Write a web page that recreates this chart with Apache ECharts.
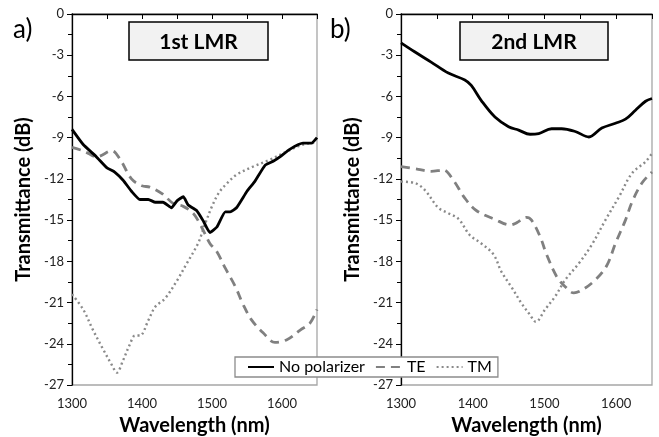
<!DOCTYPE html>
<html><head><meta charset="utf-8">
<script src="https://cdn.jsdelivr.net/npm/echarts@6/dist/echarts.min.js"></script>
<style>html,body{margin:0;padding:0;background:#fff}#c{width:659px;height:437px}</style>
</head><body><div id="c"></div>
<script>
// Panel a) 1st LMR
const aNoPolWl = [1300,1316,1335,1350,1361,1373,1385,1397,1409,1419,1430,1442,1450,1459,1466,1478,1488,1497,1507,1519,1526,1535,1550,1561,1576,1588,1597,1611,1630,1642,1650];
const aNoPolDb = [-8.4,-9.5,-10.4,-11.2,-11.5,-12.1,-12.9,-13.5,-13.5,-13.7,-13.7,-14.1,-13.6,-13.3,-13.9,-14.3,-15.1,-15.9,-15.5,-14.4,-14.4,-14.1,-12.9,-12.2,-11.0,-10.7,-10.4,-9.85,-9.4,-9.4,-9.0];
const aTEWl = [1300,1318,1335,1357,1369,1385,1400,1411,1428,1445,1459,1473,1482,1490,1497,1507,1519,1533,1545,1557,1573,1590,1607,1626,1640,1650];
const aTEDb = [-9.7,-10.0,-10.4,-9.95,-10.6,-12.0,-12.5,-12.6,-13.05,-13.8,-14.0,-14.5,-15.2,-16.0,-16.7,-17.3,-18.5,-19.8,-21.2,-22.3,-23.2,-23.9,-23.7,-23.0,-22.5,-21.5];
const aTMWl = [1300,1316,1330,1345,1357,1364,1373,1383,1390,1397,1409,1419,1433,1450,1464,1480,1490,1500,1510,1520,1535,1559,1583,1607,1630,1650];
const aTMDb = [-20.4,-21.5,-23.0,-24.45,-25.55,-26.1,-25.2,-24.0,-23.4,-23.4,-22.3,-21.3,-20.7,-19.4,-18.15,-16.7,-15.3,-14.0,-13.0,-12.4,-11.7,-11.1,-10.6,-10.0,-9.5,-9.35];
// Panel b) 2nd LMR
const bNoPolWl = [1300,1319,1342,1366,1389,1398,1412,1431,1450,1464,1480,1492,1510,1524,1543,1562,1580,1599,1613,1627,1641,1650];
const bNoPolDb = [-2.1,-2.75,-3.5,-4.3,-4.8,-5.2,-6.3,-7.5,-8.2,-8.45,-8.75,-8.7,-8.35,-8.35,-8.55,-8.95,-8.3,-7.95,-7.65,-7.0,-6.35,-6.15];
const bTEWl = [1300,1324,1342,1359,1373,1389,1405,1431,1452,1461,1475,1482,1494,1503,1517,1529,1541,1552,1571,1587,1599,1613,1622,1636,1650];
const bTEDb = [-11.1,-11.3,-11.45,-11.35,-12.1,-13.4,-14.3,-14.95,-15.35,-15.2,-14.8,-15.0,-16.2,-17.5,-19.1,-19.85,-20.3,-20.1,-19.35,-18.3,-16.7,-15.0,-13.7,-12.3,-11.5];
const bTMWl = [1300,1319,1333,1352,1366,1380,1396,1412,1429,1440,1455,1468,1480,1488,1501,1515,1529,1548,1566,1585,1604,1622,1641,1650];
const bTMDb = [-12.2,-12.3,-12.8,-14.1,-14.5,-14.9,-16.1,-16.7,-17.5,-18.75,-19.95,-21.05,-21.9,-22.4,-21.5,-20.55,-19.35,-18.15,-16.8,-15.0,-13.3,-11.6,-10.75,-10.15];

const seriesNames = ['No polarizer','TE','TM'];
const panelTitles = ['1st LMR','2nd LMR'];
const panelLetters = ['a)','b)'];
const xTitle = 'Wavelength (nm)';
const yTitle = 'Transmittance (dB)';

const FONT = 'Lato, "Open Sans", sans-serif';
const zip = (x, y) => x.map((v, i) => [v, y[i]]);

const styles = [
  {color:'#000000', width:2.8, type:'solid'},
  {color:'#808080', width:2.8, type:[9,6]},
  {color:'#8a8a8a', width:2.4, type:[2,3]}
];
const panels = [
  [zip(aNoPolWl,aNoPolDb), zip(aTEWl,aTEDb), zip(aTMWl,aTMDb)],
  [zip(bNoPolWl,bNoPolDb), zip(bTEWl,bTEDb), zip(bTMWl,bTMDb)]
];
const grids = [
  {left:72, top:14, width:245, height:371},
  {left:401, top:14, width:251, height:371}
];

function xAxis(i){
  return {type:'value', gridIndex:i, min:1300, max:1650, interval:50,
    name:xTitle, nameLocation:'middle', nameGap:31,
    nameTextStyle:{fontFamily:FONT, fontWeight:'bold', fontSize:20, color:'#000'},
    axisLine:{lineStyle:{color:'#000', width:1.3}},
    axisTick:{show:true, inside:false, length:5, lineStyle:{color:'#000'}},
    axisLabel:{fontFamily:FONT, fontSize:13, color:'#222', margin:12,
      formatter:v => (v % 100 === 0 ? String(v) : '')},
    splitLine:{show:false}};
}
function yAxis(i){
  return {type:'value', gridIndex:i, min:-27, max:0, interval:3,
    name:yTitle, nameLocation:'middle', nameGap:38,
    nameTextStyle:{fontFamily:FONT, fontWeight:'bold', fontSize:20, color:'#000'},
    axisLine:{show:true, lineStyle:{color:'#000', width:1.3}},
    axisTick:{show:true, inside:false, length:5, lineStyle:{color:'#000'}},
    minorTick:{show:true, splitNumber:2, length:4, lineStyle:{color:'#000'}},
    axisLabel:{fontFamily:FONT, fontSize:13, color:'#222', margin:8},
    splitLine:{show:false}};
}

const series = [];
panels.forEach((p, gi) => p.forEach((d, si) => {
  series.push({type:'line', name:seriesNames[si], xAxisIndex:gi, yAxisIndex:gi,
    data:d, symbol:'none', smooth:si===0 && gi===0 ? 0.15 : 0.35,
    lineStyle:{color:styles[si].color, width:styles[si].width, type:styles[si].type},
    itemStyle:{color:styles[si].color}, z: 3 - si});
}));

const boxes = [
  {x:129, y:22, w:139, h:38},
  {x:460, y:22, w:148, h:38}
];
const graphic = [];
boxes.forEach((b, i) => {
  graphic.push({type:'rect', x:b.x, y:b.y, z:10,
    shape:{x:0, y:0, width:b.w, height:b.h},
    style:{fill:'#f2f2f2', stroke:'#000', lineWidth:1.5}});
  graphic.push({type:'text', x:b.x + b.w/2, y:b.y + b.h/2 + 1, z:11,
    style:{text:panelTitles[i], font:'bold 21px ' + FONT, fill:'#000',
      align:'center', verticalAlign:'middle', textAlign:'center', textVerticalAlign:'middle'}});
});
[[13,17],[330,17]].forEach((p, i) => {
  graphic.push({type:'text', x:p[0], y:p[1], z:11,
    style:{text:panelLetters[i], font:'26px ' + FONT, fill:'#000'}});
});

const chart = echarts.init(document.getElementById('c'), null, {renderer:'canvas'});
chart.setOption({
  animation:false,
  backgroundColor:'#fff',
  grid: grids.map(g => Object.assign({show:true, borderColor:'#a6a6a6', borderWidth:1.3,
    backgroundColor:'transparent', containLabel:false, outerBoundsMode:'none'}, g)),
  xAxis:[xAxis(0), xAxis(1)],
  yAxis:[yAxis(0), yAxis(1)],
  legend:{data:seriesNames, left:235, top:357, orient:'horizontal',
    backgroundColor:'#fff', borderColor:'#8c8c8c', borderWidth:1.3,
    padding:[2,6,2,12], itemWidth:26, itemHeight:14, itemGap:10,
    itemStyle:{opacity:0},
    textStyle:{fontFamily:FONT, fontSize:16, color:'#000'}},
  series:series,
  graphic:graphic
});
</script></body></html>
